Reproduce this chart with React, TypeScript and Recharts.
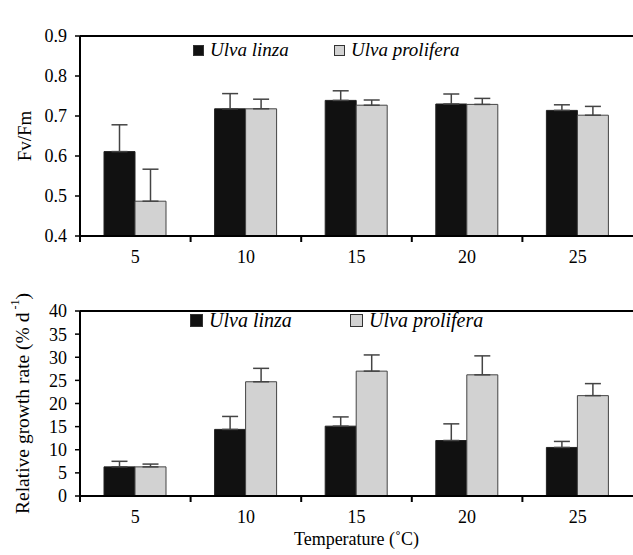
import React from 'react';
import { BarChart, Bar, XAxis, YAxis, ErrorBar, Legend, ReferenceLine } from 'recharts';

const temps = ['5', '10', '15', '20', '25'];
const seriesNames = ['Ulva linza', 'Ulva prolifera'];
const seriesColors = ['#111111', '#d2d2d2'];

const fvfmLinza = [0.611, 0.718, 0.739, 0.73, 0.714];
const fvfmLinzaErr = [0.067, 0.038, 0.024, 0.025, 0.014];
const fvfmProlifera = [0.487, 0.718, 0.727, 0.729, 0.702];
const fvfmProliferaErr = [0.08, 0.024, 0.013, 0.015, 0.022];

const rgrLinza = [6.3, 14.4, 15.1, 12.0, 10.5];
const rgrLinzaErr = [1.2, 2.8, 2.0, 3.6, 1.3];
const rgrProlifera = [6.3, 24.7, 27.0, 26.2, 21.7];
const rgrProliferaErr = [0.6, 2.9, 3.5, 4.1, 2.6];

const fvfmTicks = [0.4, 0.5, 0.6, 0.7, 0.8, 0.9];
const rgrTicks = [0, 5, 10, 15, 20, 25, 30, 35, 40];

const FONT = '"Liberation Serif", "Times New Roman", serif';
const FS = 18;
const W = 633;
const AXIS_W = 80;
const BAND = (W - AXIS_W) / temps.length;

const makeRows = (a: number[], ae: number[], b: number[], be: number[]) =>
  temps.map((t, i) => ({
    temp: t,
    linza: a[i],
    linzaErr: [0, ae[i]],
    prolifera: b[i],
    proliferaErr: [0, be[i]],
  }));

const fvfmData = makeRows(fvfmLinza, fvfmLinzaErr, fvfmProlifera, fvfmProliferaErr);
const rgrData = makeRows(rgrLinza, rgrLinzaErr, rgrProlifera, rgrProliferaErr);

// category ticks sit on the boundaries between groups, labels in the middle
function XTick(props: any) {
  const { x, y, payload } = props;
  const bx = x - BAND / 2;
  return (
    <g>
      <line x1={bx} x2={bx} y1={y - 10} y2={y - 4} stroke="#000" strokeWidth={2} />
      <text x={x} y={y} dy={17} textAnchor="middle" fontSize={FS} fontFamily={FONT} fill="#000">
        {payload.value}
      </text>
    </g>
  );
}

function legendContent(lefts: number[], size: number, fontSize: number) {
  return () => (
    <div style={{ position: 'relative', height: 20, fontFamily: FONT }}>
      {seriesNames.map((name, i) => (
        <div
          key={name}
          style={{
            position: 'absolute',
            left: lefts[i],
            top: 0,
            height: 20,
            display: 'flex',
            alignItems: 'center',
            whiteSpace: 'nowrap',
          }}
        >
          <span
            style={{
              display: 'inline-block',
              width: size,
              height: size,
              background: seriesColors[i],
              border: '1px solid #333',
              boxSizing: 'border-box',
              marginRight: 6,
            }}
          />
          <span style={{ fontStyle: 'italic', fontSize, color: '#000' }}>{name}</span>
        </div>
      ))}
    </div>
  );
}

function yLabel(cxOffset: number, fontSize: number, parts: React.ReactNode) {
  return (props: any) => {
    const vb = props.viewBox || {};
    const cx = vb.x + cxOffset;
    const cy = vb.y + vb.height / 2;
    return (
      <text
        x={cx}
        y={cy}
        transform={`rotate(-90, ${cx}, ${cy})`}
        textAnchor="middle"
        dominantBaseline="central"
        fontSize={fontSize}
        fontFamily={FONT}
        fill="#000"
      >
        {parts}
      </text>
    );
  };
}

function xLabel(text: string) {
  return (props: any) => {
    const vb = props.viewBox || {};
    return (
      <text x={vb.x + vb.width / 2} y={vb.y + 49} textAnchor="middle" fontSize={FS} fontFamily={FONT} fill="#000">
        {text}
      </text>
    );
  };
}

const axisLine = { stroke: '#000', strokeWidth: 2 };
const tickLine = { stroke: '#000', strokeWidth: 1.5 };
const yTick = { fill: '#000', fontSize: FS, fontFamily: FONT };

function Panel(props: {
  data: any[];
  height: number;
  top: number;
  xHeight: number;
  domain: [number, number];
  ticks: number[];
  label: any;
  legendLefts: number[];
  legendSize: number;
  legendFont: number;
  xTitle?: string;
}) {
  const { data, height, top, xHeight, domain, ticks } = props;
  return (
    <BarChart
      width={W}
      height={height}
      data={data}
      margin={{ top, right: 0, left: 0, bottom: 0 }}
      barCategoryGap={24}
      barGap={0}
    >
      <XAxis
        dataKey="temp"
        height={xHeight}
        axisLine={axisLine}
        tickLine={false}
        tickSize={6}
        tickMargin={4}
        tick={(p: any) => <XTick {...p} />}
        interval={0}
        label={props.xTitle ? xLabel(props.xTitle) : undefined}
      />
      <YAxis
        width={AXIS_W}
        domain={domain}
        ticks={ticks}
        interval={0}
        allowDataOverflow
        axisLine={axisLine}
        tickLine={tickLine}
        tickSize={5}
        tickMargin={8}
        tick={yTick}
        label={props.label}
      />
      <ReferenceLine y={domain[1]} stroke="#000" strokeWidth={2} />
      <Legend
        verticalAlign="top"
        wrapperStyle={{ top: 40, left: 0, width: W }}
        content={legendContent(props.legendLefts, props.legendSize, props.legendFont)}
      />
      <Bar dataKey="linza" name={seriesNames[0]} fill={seriesColors[0]} stroke="#222" strokeWidth={1} isAnimationActive={false}>
        <ErrorBar dataKey="linzaErr" width={8} stroke="#444" strokeWidth={1.5} direction="y" />
      </Bar>
      <Bar dataKey="prolifera" name={seriesNames[1]} fill={seriesColors[1]} stroke="#444" strokeWidth={1} isAnimationActive={false}>
        <ErrorBar dataKey="proliferaErr" width={8} stroke="#444" strokeWidth={1.5} direction="y" />
      </Bar>
    </BarChart>
  );
}

export default function App() {
  return (
    <div style={{ position: 'absolute', left: 0, top: 0, width: W, height: 555, background: '#fff' }}>
      <div style={{ position: 'absolute', left: 0, top: 0 }}>
        <Panel
          data={fvfmData}
          height={270}
          top={16}
          xHeight={34}
          domain={[0.4, 0.9]}
          ticks={fvfmTicks}
          label={yLabel(24, 19, 'Fv/Fm')}
          legendLefts={[193, 334]}
          legendSize={11}
          legendFont={19}
        />
      </div>
      <div style={{ position: 'absolute', left: 0, top: 270 }}>
        <Panel
          data={rgrData}
          height={285}
          top={21}
          xHeight={59}
          domain={[0, 40]}
          ticks={rgrTicks}
          label={yLabel(22, 19.5, (
            <>
              <tspan>Relative growth rate  (% d</tspan>
              <tspan fontSize={12} dy={-7}> -1</tspan>
              <tspan dy={7}>)</tspan>
            </>
          ))}
          legendLefts={[190, 350]}
          legendSize={13}
          legendFont={20}
          xTitle="Temperature (˚C)"
        />
      </div>
    </div>
  );
}
